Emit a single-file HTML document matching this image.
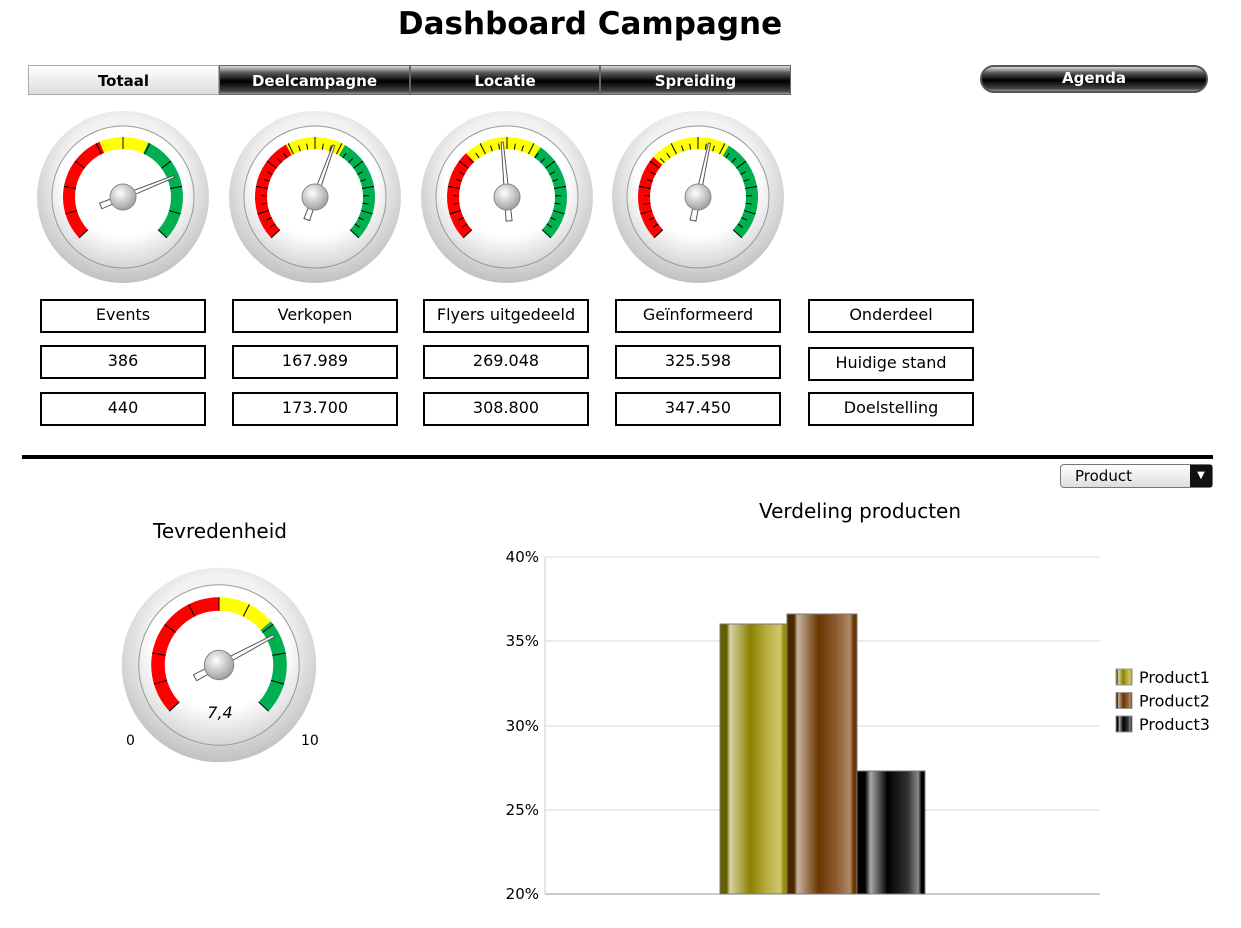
<!DOCTYPE html>
<html><head><meta charset="utf-8"><style>
body{margin:0;width:1241px;height:928px;background:#fff;font-family:"DejaVu Sans","Liberation Sans",sans-serif;position:relative;overflow:hidden}
.a{position:absolute}
h1{position:absolute;left:0;width:1180px;top:6px;margin:0;text-align:center;font-size:31px;font-weight:bold}
.tab{position:absolute;top:65px;height:30px;line-height:30px;text-align:center;color:#fff;font-weight:bold;font-size:15px;background:linear-gradient(#ddd 0%,#555 25%,#000 55%,#444 90%,#999);border:1px solid #666;box-sizing:border-box}
.box{position:absolute;width:166px;height:34px;border:2px solid #000;box-sizing:border-box;text-align:center;font-size:16px;line-height:28px}
</style></head><body>
<h1>Dashboard Campagne</h1>
<div class="tab" style="left:28px;width:191px;color:#000;background:linear-gradient(#fff,#eee 50%,#ddd);border-color:#aaa">Totaal</div>
<div class="tab" style="left:219px;width:191px">Deelcampagne</div>
<div class="tab" style="left:410px;width:190px">Locatie</div>
<div class="tab" style="left:600px;width:191px">Spreiding</div>
<div class="tab" style="left:980px;width:228px;height:28px;line-height:22px;border-radius:14px;border:2px solid #555">Agenda</div>
<svg class="a" style="left:0;top:0" width="1241" height="928" id="g"></svg>
<div class="box" style="left:40px;top:299px">Events</div>
<div class="box" style="left:232px;top:299px">Verkopen</div>
<div class="box" style="left:423px;top:299px">Flyers uitgedeeld</div>
<div class="box" style="left:615px;top:299px">Geïnformeerd</div>
<div class="box" style="left:808px;top:299px">Onderdeel</div>
<div class="box" style="left:40px;top:345px">386</div>
<div class="box" style="left:232px;top:345px">167.989</div>
<div class="box" style="left:423px;top:345px">269.048</div>
<div class="box" style="left:615px;top:345px">325.598</div>
<div class="box" style="left:808px;top:347px">Huidige stand</div>
<div class="box" style="left:40px;top:392px">440</div>
<div class="box" style="left:232px;top:392px">173.700</div>
<div class="box" style="left:423px;top:392px">308.800</div>
<div class="box" style="left:615px;top:392px">347.450</div>
<div class="box" style="left:808px;top:392px">Doelstelling</div>
<div class="a" style="left:22px;top:455px;width:1191px;height:4px;background:#000"></div>
<div class="a" style="left:1060px;top:464px;width:153px;height:24px;border:1px solid #777;border-radius:4px;background:linear-gradient(#fff,#ddd);font-size:15px;line-height:22px;box-sizing:border-box;padding-left:14px">Product<div class="a" style="right:0;top:0;width:22px;height:22px;background:#111;color:#fff;font-size:10px;text-align:center;line-height:22px">▼</div></div>
<div class="a" style="left:120px;top:519px;width:200px;text-align:center;font-size:20px">Tevredenheid</div>
<div class="a" style="left:700px;top:499px;width:320px;text-align:center;font-size:20px">Verdeling producten</div>
<div class="a" style="left:126px;top:733px;font-size:14px">0</div>
<div class="a" style="left:301px;top:733px;font-size:14px">10</div>
<div class="a" style="left:190px;top:703px;width:60px;text-align:center;font-size:16px;font-style:italic">7,4</div>
<script>
var s='';
function p(a,r,cx,cy){a=(a-90)*Math.PI/180;return [cx+r*Math.cos(a),cy+r*Math.sin(a)];}
function arc(cx,cy,r1,r2,a1,a2,c){var A=p(a1,r1,cx,cy),B=p(a2,r1,cx,cy),C=p(a2,r2,cx,cy),D=p(a1,r2,cx,cy),l=(a2-a1)>180?1:0;
s+=`<path d="M${A}A${r1},${r1} 0 ${l} 1 ${B}L${C}A${r2},${r2} 0 ${l} 0 ${D}Z" fill="${c}"/>`;}
function gauge(cx,cy,k,b1,b2,nd,nt){
s+=`<circle cx="${cx}" cy="${cy}" r="${86*k}" fill="url(#bz)"/><circle cx="${cx}" cy="${cy}" r="${71*k}" fill="url(#dl)" stroke="#999" stroke-width="1"/>`;
arc(cx,cy,60*k,48*k,-133,b1,'#f00');arc(cx,cy,60*k,48*k,b1,b2,'#ff0');arc(cx,cy,60*k,48*k,b2,133,'#00b050');
for(var i=0;i<=nt;i++){var a=-133+266*i/nt,L=(i%(nt/10)==0)?12:6,P=p(a,48*k,cx,cy),Q=p(a,(48+L)*k,cx,cy);s+=`<line x1="${P[0]}" y1="${P[1]}" x2="${Q[0]}" y2="${Q[1]}" stroke="#000" stroke-width="1"/>`;}
var t=p(nd,55*k,cx,cy),b=p(nd+180,24*k,cx,cy),w=p(nd+90,3*k,0,0),w2=p(nd+90,1*k,0,0);
s+=`<polygon points="${t[0]+w2[0]},${t[1]+w2[1]} ${t[0]-w2[0]},${t[1]-w2[1]} ${b[0]-w[0]},${b[1]-w[1]} ${b[0]+w[0]},${b[1]+w[1]}" fill="#fff" stroke="#555" stroke-width="1"/>`;
s+=`<circle cx="${cx}" cy="${cy}" r="${13*k}" fill="url(#hb)" stroke="#888"/>`;}
s+=`<defs><radialGradient id="bz" cx=".5" cy=".4" r=".6"><stop offset=".6" stop-color="#f2f2f2"/><stop offset="1" stop-color="#c0c0c0"/></radialGradient><radialGradient id="dl" cx=".5" cy=".35" r=".7"><stop offset=".6" stop-color="#fff"/><stop offset="1" stop-color="#ccc"/></radialGradient><radialGradient id="hb" cx=".4" cy=".35" r=".7"><stop offset="0" stop-color="#fff"/><stop offset="1" stop-color="#999"/></radialGradient>
<linearGradient id="p1"><stop offset="0" stop-color="#665f00"/><stop offset=".1" stop-color="#665f00"/><stop offset=".15" stop-color="#d8d4a8"/><stop offset=".45" stop-color="#8a8000"/><stop offset=".7" stop-color="#b8ae40"/><stop offset=".9" stop-color="#d0c870"/><stop offset=".95" stop-color="#998e00"/></linearGradient>
<linearGradient id="p2"><stop offset="0" stop-color="#4a2800"/><stop offset=".1" stop-color="#4a2800"/><stop offset=".15" stop-color="#c8b4a0"/><stop offset=".45" stop-color="#6a3600"/><stop offset=".7" stop-color="#8a5a30"/><stop offset=".9" stop-color="#b08a68"/><stop offset=".95" stop-color="#6a3600"/></linearGradient>
<linearGradient id="p3"><stop offset="0" stop-color="#000"/><stop offset=".12" stop-color="#000"/><stop offset=".2" stop-color="#aaa"/><stop offset=".45" stop-color="#000"/><stop offset=".75" stop-color="#333"/><stop offset=".9" stop-color="#888"/><stop offset=".95" stop-color="#000"/></linearGradient></defs>`;
gauge(123,197,1,-23,25,68,10);gauge(315,197,1,-29,30,20,30);gauge(507,197,1,-43,34,-5,30);gauge(698,197,1,-48,31,12,30);
gauge(219,665,1.13,0,50,62,10);
[[40,557],[35,641],[30,726],[25,810],[20,894]].forEach(function(d){s+=`<line x1="545" x2="1100" y1="${d[1]}" y2="${d[1]}" stroke="${d[0]==20?'#999':'#d8d8d8'}"/><text x="539" y="${d[1]+5}" text-anchor="end" font-size="15" font-family="DejaVu Sans,sans-serif">${d[0]}%</text>`;});
s+=`<line x1="545" x2="545" y1="557" y2="894" stroke="#ccc"/>`;
[[720,787,624,'p1'],[787,857,614,'p2'],[857,925,771,'p3']].forEach(function(b){s+=`<rect x="${b[0]}" y="${b[2]}" width="${b[1]-b[0]}" height="${894-b[2]}" fill="url(#${b[3]})" stroke="#777" stroke-width="1"/>`;});
['Product1','Product2','Product3'].forEach(function(n,i){var y=669+i*23.5;s+=`<rect x="1116" y="${y}" width="16" height="16" fill="url(#p${i+1})" stroke="#999"/><text x="1139" y="${y+14}" font-size="16" font-family="DejaVu Sans,sans-serif">${n}</text>`;});
document.getElementById('g').innerHTML=s;
</script>
</body></html>
